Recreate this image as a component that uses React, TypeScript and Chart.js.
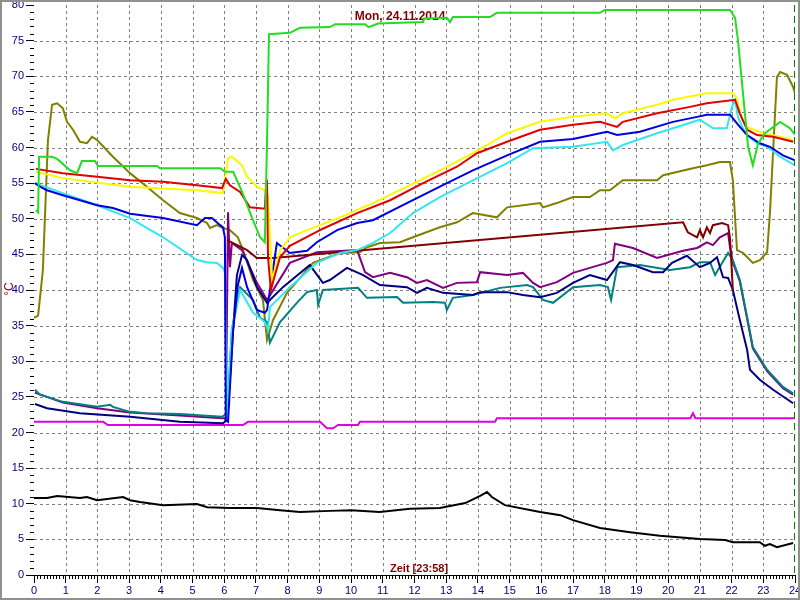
import React, { useEffect, useRef } from "react";
import { Chart, registerables } from "chart.js";

Chart.register(...registerables);

const TITLE = "Mon, 24.11.2014";
const X_LABEL = "Zeit [23:58]";
const Y_LABEL = "°C";
const X_TICKS = [0, 1, 2, 3, 4, 5, 6, 7, 8, 9, 10, 11, 12, 13, 14, 15, 16, 17, 18, 19, 20, 21, 22, 23, 24];
const Y_TICKS = [0, 5, 10, 15, 20, 25, 30, 35, 40, 45, 50, 55, 60, 65, 70, 75, 80];
const NOW_HOUR = 23 + 58 / 60;

const greenLine = [
  [0.06, 51.2], [0.13, 50.9], [0.16, 58.7], [0.57, 58.7], [0.73, 58.4], [1.14, 56.8], [1.36, 56.4], [1.51, 58.1],
  [1.92, 58.1], [2.02, 57.4], [3.88, 57.4], [3.97, 57.1], [5.87, 57.1], [6.02, 56.6], [6.28, 56.6], [6.56, 53.8],
  [6.87, 50.2], [7.13, 47.4], [7.28, 46.7], [7.35, 61.0], [7.41, 75.9], [8.07, 76.1], [8.39, 76.8], [9.33, 76.9],
  [9.5, 77.3], [10.44, 77.3], [10.55, 76.9], [10.85, 77.4], [12.27, 77.6], [12.3, 78.1], [13.02, 78.2], [13.12, 77.6],
  [13.21, 78.3], [14.38, 78.3], [14.6, 78.9], [17.85, 78.9], [18.0, 79.3], [21.95, 79.3], [22.11, 78.2], [22.2, 75.1],
  [22.52, 60.1], [22.67, 57.5], [22.83, 60.5], [23.05, 62.0], [23.53, 63.6], [23.84, 62.7], [24.0, 61.8],
];

const yellowLine = [
  [0.06, 56.6], [0.91, 55.7], [3.03, 54.5], [5.14, 54.0], [5.96, 53.6], [6.12, 58.5], [6.24, 58.7], [6.56, 57.5],
  [6.72, 55.9], [7.03, 54.5], [7.28, 54.0], [7.38, 53.3], [7.51, 41.4], [7.76, 45.6], [8.07, 47.4], [8.61, 48.4],
  [9.65, 50.2], [10.69, 52.2], [11.76, 54.5], [12.8, 56.8], [13.84, 59.2], [14.92, 62.0], [15.96, 63.6], [17.0, 64.3],
  [18.07, 64.8], [18.32, 64.1], [18.57, 64.8], [19.65, 66.0], [20.15, 66.7], [21.22, 67.6], [22.04, 67.6], [22.17, 66.9],
  [22.33, 63.9], [22.49, 62.9], [22.99, 62.0], [23.53, 61.5], [24.0, 60.9],
];

const redLine = [
  [0.06, 57.0], [0.91, 56.4], [1.99, 55.9], [3.03, 55.4], [4.07, 55.2], [5.14, 54.7], [5.93, 54.3], [6.05, 55.6],
  [6.18, 54.7], [6.5, 53.75], [6.81, 51.6], [7.28, 51.4], [7.32, 54.7], [7.35, 55.0], [7.38, 44.6], [7.47, 40.0],
  [7.6, 42.1], [7.76, 44.6], [8.07, 46.2], [9.11, 48.6], [10.19, 50.8], [11.23, 52.6], [12.27, 55.0], [13.34, 57.3],
  [13.97, 59.2], [14.92, 60.8], [15.96, 62.5], [17.0, 63.2], [17.85, 63.6], [18.39, 62.9], [18.57, 63.6], [19.65, 64.8],
  [20.69, 65.7], [21.22, 66.2], [22.11, 66.7], [22.26, 64.8], [22.49, 62.5], [22.8, 61.75], [23.31, 61.5], [23.94, 60.8],
];

const blueLine = [
  [0.03, 55.0], [0.19, 54.5], [0.41, 54.0], [0.91, 53.3], [1.45, 52.6], [1.99, 51.9], [2.49, 51.5], [3.03, 50.7],
  [4.07, 50.1], [5.14, 49.1], [5.39, 50.1], [5.61, 50.1], [5.87, 49.1], [5.96, 48.8], [6.02, 47.4], [6.05, 21.75],
  [6.12, 21.5], [6.28, 34.4], [6.43, 40.7], [6.56, 43.1], [6.72, 40.4], [7.03, 37.2], [7.28, 36.8], [7.35, 37.2],
  [7.66, 46.6], [8.07, 45.2], [8.61, 45.5], [8.92, 46.7], [9.56, 48.4], [10.19, 49.4], [10.69, 49.8], [11.76, 52.2],
  [12.8, 54.5], [13.84, 56.8], [14.92, 58.9], [15.96, 60.8], [17.0, 61.2], [18.07, 62.2], [18.39, 61.75], [19.11, 62.2],
  [20.15, 63.6], [20.91, 64.3], [21.22, 64.6], [21.95, 64.6], [22.2, 63.2], [22.49, 61.75], [22.89, 60.6], [23.21, 60.1],
  [23.62, 58.9], [24.0, 58.2],
];

const cyanLine = [
  [0.03, 55.0], [0.91, 53.6], [1.99, 51.9], [3.03, 50.1], [4.07, 47.4], [5.14, 44.2], [5.46, 43.9], [5.77, 43.8],
  [5.96, 43.1], [6.02, 42.5], [6.09, 21.75], [6.24, 34.4], [6.5, 40.0], [6.91, 36.8], [7.28, 35.5], [7.38, 34.4],
  [7.44, 37.6], [8.07, 40.4], [8.92, 43.8], [9.65, 45.2], [10.19, 45.6], [10.69, 46.6], [11.23, 48.0], [11.95, 50.8],
  [12.8, 53.05], [13.84, 55.4], [14.92, 57.8], [15.74, 59.9], [17.0, 60.1], [18.07, 60.8], [18.26, 59.6], [18.57, 60.35],
  [19.65, 62.0], [20.15, 62.7], [21.0, 63.9], [21.41, 62.7], [21.85, 62.7], [22.01, 65.7], [22.11, 66.7], [22.2, 64.3],
  [22.42, 62.0], [22.8, 60.6], [23.12, 60.1], [23.53, 58.7], [24.0, 57.5],
];

const oliveLine = [
  [0.0, 36.1], [0.13, 36.4], [0.28, 42.8], [0.44, 61.05], [0.57, 66.0], [0.73, 66.2], [0.91, 65.5], [1.04, 63.6],
  [1.23, 62.5], [1.45, 60.8], [1.67, 60.6], [1.83, 61.5], [1.99, 61.05], [2.49, 58.7], [3.03, 56.4], [3.56, 54.5],
  [4.07, 52.6], [4.6, 50.8], [5.14, 50.1], [5.46, 49.4], [5.55, 48.7], [5.77, 49.1], [5.96, 48.7], [6.18, 48.4],
  [6.43, 47.4], [6.59, 45.6], [6.91, 41.4], [7.22, 38.6], [7.35, 33.0], [7.54, 35.8], [7.98, 39.6], [8.39, 41.7],
  [8.8, 43.8], [9.65, 45.2], [10.28, 45.3], [10.5, 46.0], [10.91, 46.6], [11.54, 46.7], [11.95, 47.4], [12.8, 48.8],
  [13.34, 49.5], [13.84, 50.8], [14.6, 50.2], [14.92, 51.6], [15.96, 52.2], [16.05, 51.6], [16.49, 52.2], [17.0, 53.05],
  [17.53, 53.05], [17.85, 54.0], [18.16, 54.0], [18.57, 55.4], [19.65, 55.4], [19.84, 56.1], [20.78, 57.1], [21.22, 57.5],
  [21.63, 57.96], [21.95, 57.96], [22.04, 55.4], [22.17, 45.6], [22.36, 45.2], [22.67, 43.8], [22.89, 44.2], [23.12, 45.3],
  [23.21, 50.8], [23.43, 69.9], [23.53, 70.6], [23.75, 70.2], [23.94, 68.5], [24.0, 67.6],
];

const maroonLine = [
  [6.09, 47.0], [6.72, 45.6], [7.03, 44.5], [7.54, 44.5], [20.47, 49.5], [20.62, 48.1], [20.91, 47.4], [21.0, 48.4],
  [21.1, 47.4], [21.22, 48.8], [21.32, 48.0], [21.41, 49.1], [21.7, 49.4], [21.89, 49.1], [21.95, 47.3], [22.04, 40.0],
];

const purpleLine = [
  [0.03, 25.6], [0.91, 24.2], [1.99, 23.4], [3.03, 22.8], [4.6, 22.4], [5.93, 22.0], [6.05, 22.0], [6.12, 50.9],
  [6.18, 43.2], [6.24, 46.6], [6.56, 45.6], [7.03, 41.0], [7.35, 38.6], [8.07, 43.8], [8.92, 45.3], [10.19, 45.6],
  [10.44, 42.5], [10.69, 41.8], [11.23, 42.4], [11.76, 41.8], [12.08, 41.0], [12.39, 41.4], [12.9, 40.3], [13.34, 41.0],
  [13.97, 41.1], [14.07, 42.5], [14.92, 42.1], [15.42, 42.4], [15.74, 41.0], [15.96, 40.4], [16.49, 41.1], [17.0, 42.4],
  [17.53, 43.1], [18.07, 43.8], [18.26, 44.2], [18.32, 46.5], [18.89, 45.9], [19.65, 44.5], [20.47, 45.5], [20.91, 45.9],
  [21.22, 46.7], [21.41, 46.3], [21.63, 47.4], [21.89, 48.0], [21.95, 46.0], [22.04, 43.9], [22.26, 41.2], [22.49, 36.0],
  [22.67, 31.8], [23.12, 28.6], [23.62, 26.2], [23.94, 25.3],
];

const navyLine = [
  [0.03, 24.0], [0.41, 23.4], [1.45, 22.7], [3.03, 22.2], [4.6, 21.5], [5.96, 21.3], [6.09, 21.75], [6.28, 34.4],
  [6.4, 42.1], [6.56, 44.9], [6.72, 44.2], [7.03, 40.4], [7.35, 38.2], [7.85, 40.4], [8.7, 43.5], [9.11, 41.0],
  [9.33, 41.4], [9.87, 43.1], [10.38, 42.1], [10.91, 40.7], [11.76, 40.4], [12.08, 39.6], [12.39, 40.3], [12.9, 39.6],
  [13.84, 39.3], [14.07, 39.7], [14.92, 39.7], [15.42, 39.3], [15.96, 39.0], [16.49, 39.6], [17.0, 41.0], [17.53, 42.1],
  [18.07, 41.4], [18.48, 43.9], [18.89, 43.5], [19.52, 42.5], [19.84, 42.5], [20.12, 43.8], [20.59, 44.8], [21.0, 43.2],
  [21.32, 43.8], [21.54, 44.6], [21.73, 41.8], [21.89, 41.7], [22.04, 40.0], [22.26, 35.8], [22.49, 31.6], [22.58, 28.8],
  [22.89, 27.4], [23.31, 26.0], [23.94, 24.1],
];

const tealLine = [
  [0.03, 26.0], [0.19, 25.3], [0.91, 24.3], [1.99, 23.6], [2.4, 23.9], [2.49, 23.6], [3.03, 22.9], [3.56, 22.7],
  [4.6, 22.6], [5.93, 22.2], [6.09, 22.7], [6.24, 34.4], [6.5, 40.4], [6.91, 38.6], [7.13, 36.1], [7.35, 35.5],
  [7.44, 32.6], [7.76, 35.5], [8.29, 38.2], [8.61, 39.7], [8.92, 40.0], [8.96, 37.9], [9.11, 40.0], [10.22, 40.3],
  [10.5, 38.9], [11.45, 39.0], [11.64, 38.2], [12.58, 38.3], [12.96, 38.2], [13.02, 37.2], [13.21, 38.9], [13.84, 39.3],
  [14.7, 40.3], [15.55, 40.7], [15.74, 40.4], [16.05, 38.6], [16.37, 38.2], [17.0, 40.4], [17.85, 40.7], [18.1, 40.4],
  [18.2, 38.6], [18.39, 43.2], [19.11, 43.5], [20.06, 42.8], [20.69, 43.2], [21.0, 43.9], [21.32, 43.9], [21.48, 42.1],
  [21.7, 43.8], [21.89, 45.2], [22.04, 44.2], [22.26, 41.4], [22.49, 36.2], [22.67, 32.0], [23.12, 28.8], [23.62, 26.4],
  [23.94, 25.5],
];

const magentaLine = [
  [0.0, 21.5], [2.18, 21.5], [2.33, 21.05], [6.59, 21.05], [6.75, 21.5], [9.02, 21.5], [9.24, 20.6], [9.43, 20.6],
  [9.59, 21.05], [10.22, 21.05], [10.28, 21.5], [14.54, 21.5], [14.6, 22.0], [20.7, 22.0], [20.78, 22.7], [20.86, 22.0],
  [24.0, 22.0],
];

const blackLine = [
  [0.0, 10.8], [0.41, 10.8], [0.73, 11.1], [1.45, 10.8], [1.67, 10.95], [1.99, 10.5], [2.81, 10.95], [3.03, 10.5],
  [3.34, 10.25], [4.07, 9.8], [5.14, 9.96], [5.46, 9.5], [6.18, 9.4], [7.03, 9.4], [7.76, 9.1], [8.39, 8.84],
  [9.33, 9.0], [10.0, 9.1], [10.9, 8.84], [11.86, 9.3], [12.8, 9.4], [13.6, 10.1], [14.07, 11.1], [14.29, 11.65],
  [14.44, 10.95], [14.85, 9.8], [15.96, 8.84], [16.6, 8.4], [17.0, 7.7], [17.85, 6.6], [18.8, 6.0], [19.74, 5.5],
  [21.0, 5.05], [21.8, 4.9], [22.04, 4.6], [22.89, 4.6], [23.05, 4.1], [23.21, 4.35], [23.43, 3.9], [23.94, 4.5],
];

const SERIES = [
  { data: greenLine, color: "#22dd22" },
  { data: redLine, color: "#e00000" },
  { data: yellowLine, color: "#f8f800" },
  { data: blueLine, color: "#0000dd" },
  { data: cyanLine, color: "#33e6f0" },
  { data: maroonLine, color: "#800000" },
  { data: navyLine, color: "#000080" },
  { data: tealLine, color: "#008080" },
  { data: purpleLine, color: "#800080" },
  { data: oliveLine, color: "#808000" },
  { data: magentaLine, color: "#e000e0" },
  { data: blackLine, color: "#000000" },
];

const decorPlugin = {
  id: "decor",
  beforeDatasetsDraw(chart: any) {
    const { ctx, chartArea, scales } = chart;
    const x = scales.x;
    const y = scales.y;
    ctx.save();
    ctx.strokeStyle = "#808080";
    ctx.lineWidth = 1;
    ctx.setLineDash([3, 3]);
    for (const t of X_TICKS) {
      if (t <= 0 || t >= 24) continue;
      const px = Math.round(x.getPixelForValue(t)) + 0.5;
      ctx.beginPath();
      ctx.moveTo(px, chartArea.top);
      ctx.lineTo(px, chartArea.bottom);
      ctx.stroke();
    }
    for (const t of Y_TICKS) {
      if (t <= 0 || t >= 80) continue;
      const py = Math.round(y.getPixelForValue(t)) + 0.5;
      ctx.beginPath();
      ctx.moveTo(chartArea.left, py);
      ctx.lineTo(chartArea.right, py);
      ctx.stroke();
    }
    ctx.setLineDash([]);
    ctx.fillStyle = "#800000";
    ctx.font = 'bold 12px "Liberation Sans", Arial, sans-serif';
    ctx.textAlign = "center";
    ctx.textBaseline = "middle";
    ctx.fillText(TITLE, 400, 17);
    ctx.textAlign = "left";
    ctx.font = 'bold 11px "Liberation Sans", Arial, sans-serif';
    ctx.fillText(X_LABEL, 390, 569);
    ctx.restore();
  },
  afterDraw(chart: any) {
    const { ctx, chartArea, scales } = chart;
    const x = scales.x;
    const y = scales.y;
    ctx.save();
    ctx.strokeStyle = "#000000";
    ctx.lineWidth = 1;
    for (let i = 0; i <= 240; i++) {
      if (i % 10 === 0) continue;
      const px = Math.round(x.getPixelForValue(i / 10)) + 0.5;
      ctx.beginPath();
      ctx.moveTo(px, chartArea.bottom);
      ctx.lineTo(px, chartArea.bottom + 4);
      ctx.stroke();
    }
    for (let i = 0; i <= 80; i++) {
      if (i % 5 === 0) continue;
      const py = Math.round(y.getPixelForValue(i)) + 0.5;
      ctx.beginPath();
      ctx.moveTo(chartArea.left - 4, py);
      ctx.lineTo(chartArea.left, py);
      ctx.stroke();
    }
    ctx.strokeStyle = "#008000";
    ctx.setLineDash([7, 4]);
    const nx = Math.round(x.getPixelForValue(NOW_HOUR)) + 0.5;
    ctx.beginPath();
    ctx.moveTo(nx, chartArea.top);
    ctx.lineTo(nx, chartArea.bottom);
    ctx.stroke();
    ctx.setLineDash([]);
    ctx.fillStyle = "#800000";
    ctx.font = '12px "Liberation Sans", Arial, sans-serif';
    ctx.translate(10, 289);
    ctx.rotate(-Math.PI / 2);
    ctx.textAlign = "center";
    ctx.textBaseline = "middle";
    ctx.fillText(Y_LABEL, 0, 0);
    ctx.setTransform(1, 0, 0, 1, 0, 0);
    ctx.strokeStyle = "#909090";
    ctx.lineWidth = 2;
    ctx.strokeRect(1, 1, 798, 598);
    ctx.restore();
  },
};

export default function App() {
  const ref = useRef<HTMLCanvasElement | null>(null);
  useEffect(() => {
    document.body.style.margin = "0";
    const canvas = ref.current;
    if (!canvas) return;
    const chart = new Chart(canvas, {
      type: "line",
      data: {
        datasets: SERIES.map((s) => ({
          data: s.data as any,
          borderColor: s.color,
          backgroundColor: s.color,
          borderWidth: 2,
          pointRadius: 0,
          tension: 0,
          fill: false,
        })),
      },
      options: {
        responsive: false,
        animation: false,
        devicePixelRatio: 1,
        layout: { padding: { left: 0, right: 5, top: 5, bottom: 0 } },
        plugins: { legend: { display: false }, tooltip: { enabled: false }, title: { display: false } },
        scales: {
          x: {
            type: "linear",
            min: 0,
            max: 24,
            afterFit: (s: any) => {
              s.height = 25;
              s.paddingLeft = 0;
              s.paddingRight = 0;
            },
            afterBuildTicks: (s: any) => {
              s.ticks = X_TICKS.map((v) => ({ value: v }));
            },
            ticks: {
              autoSkip: false,
              maxRotation: 0,
              padding: 1,
              color: "#000080",
              font: { family: '"Liberation Sans", Arial, sans-serif', size: 11 },
            },
            grid: { drawOnChartArea: false, drawTicks: true, tickLength: 8, tickColor: "#000000", color: "#000000" },
            border: { display: true, color: "#000000", width: 1 },
          },
          y: {
            type: "linear",
            min: 0,
            max: 80,
            afterFit: (s: any) => {
              s.width = 34;
              s.paddingTop = 0;
              s.paddingBottom = 0;
            },
            afterBuildTicks: (s: any) => {
              s.ticks = Y_TICKS.map((v) => ({ value: v }));
            },
            ticks: {
              autoSkip: false,
              padding: 2,
              color: "#000080",
              font: { family: '"Liberation Sans", Arial, sans-serif', size: 11 },
            },
            grid: { drawOnChartArea: false, drawTicks: true, tickLength: 8, tickColor: "#000000", color: "#000000" },
            border: { display: false },
          },
        },
      },
      plugins: [decorPlugin],
    });
    return () => chart.destroy();
  }, []);
  return <canvas ref={ref} width={800} height={600} style={{ display: "block", background: "#ffffff" }} />;
}
